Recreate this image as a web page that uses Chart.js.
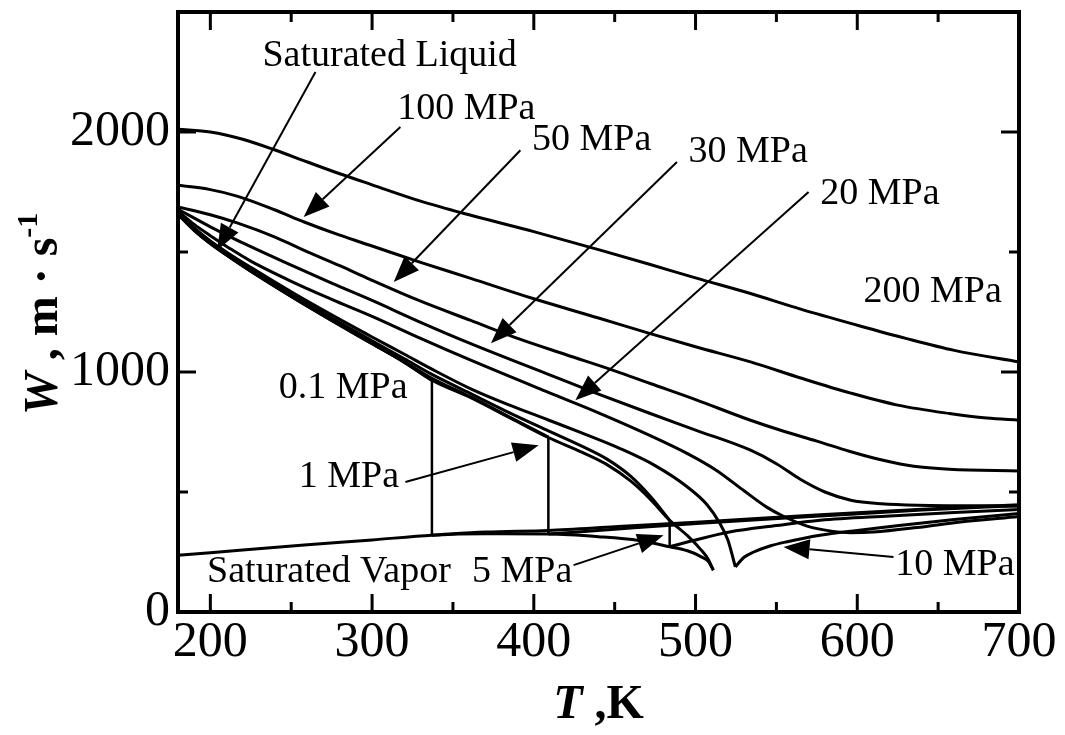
<!DOCTYPE html>
<html>
<head>
<meta charset="utf-8">
<script src="https://cdn.jsdelivr.net/npm/chart.js@4.4.1/dist/chart.umd.min.js"></script>
<style>
  html, body { margin: 0; padding: 0; background: #fff; }
  #wrap { width: 1065px; height: 735px; }
</style>
</head>
<body>
<div id="wrap"><canvas id="soundChart"></canvas></div>
<script>
// axis ticks
var tempTicks = [200, 300, 400, 500, 600, 700];
var tempMinor = [250, 350, 450, 550, 650];
var speedTicks = [0, 1000, 2000];
var speedMinor = [500, 1500];

// speed of sound W (m/s) against T (K), one array per isobar: [T, W]
var p200 = [[180,2012],[200,2000],[220,1970],[240,1925],[260,1875],[280,1826],[300,1780],[330,1712],[360,1655],[400,1585],[440,1510],[472,1448],[500,1392],[534,1327],[565,1262],[600,1195],[630,1140],[660,1090],[700,1042]];
var p100 = [[180,1778],[200,1760],[217,1732],[240,1675],[258,1625],[280,1570],[300,1525],[330,1457],[361,1390],[400,1305],[440,1225],[472,1160],[500,1105],[534,1042],[565,975],[596,912],[625,862],[657,827],[680,808],[700,799]];
var p50 = [[180,1688],[200,1655],[217,1620],[240,1562],[258,1507],[280,1443],[299,1385],[330,1295],[361,1215],[390,1140],[420,1072],[450,1005],[472,952],[500,885],[534,799],[555,752],[575,712],[595,670],[616,632],[635,607],[657,595],[700,588]];
var p30 = [[180,1678],[200,1605],[225,1522],[250,1445],[275,1370],[300,1298],[330,1207],[361,1118],[409,990],[440,908],[472,827],[500,758],[534,674],[550,618],[565,552],[580,500],[596,466],[615,451],[637,445],[700,442]];
var p20 = [[180,1670],[190,1615],[200,1568],[212,1515],[225,1462],[250,1378],[275,1303],[300,1232],[330,1140],[361,1049],[409,915],[440,830],[472,735],[495,660],[513,590],[530,505],[544,437],[554,400],[569,358],[585,336],[596,330],[610,333],[637,352],[660,372],[700,398]];
var p10Liquid = [[180,1664],[190,1600],[200,1546],[212,1491],[225,1436],[250,1334],[275,1238],[300,1146],[320,1074],[337,1012],[361,930],[385,862],[409,800],[430,745],[453,682],[475,610],[495,521],[507,448],[515,370],[520,300],[524.6,188]];
var p10Gas = [[524.6,188],[530,228],[536,250],[546,275],[556,292],[577,320],[600,340],[618,354],[660,385],[700,410]];
var p5Liquid = [[180,1661],[190,1595],[200,1540],[212,1484],[225,1427],[250,1323],[275,1225],[300,1130],[320,1055],[337,990],[361,910],[385,830],[409,755],[430,690],[445,638],[460,565],[472,482],[484,382]];
var p5Gas = [[484,272],[500,300],[521,333],[550,360],[577,382],[620,400],[660,415],[700,427]];
var p1Liquid = [[180,1659],[190,1592],[200,1537],[212,1480],[225,1422],[250,1317],[275,1217],[300,1120],[320,1043],[337,974],[361,896],[385,812],[409,729]];
var p1Gas = [[409,325],[450,345],[503,370],[577,400],[640,425],[700,443]];
var p01Liquid = [[180,1657],[190,1590],[200,1535],[212,1478],[225,1420],[250,1315],[275,1215],[300,1118],[320,1040],[337,966]];
var p01Gas = [[337,320],[370,333],[409,340],[450,355],[503,375],[577,405],[640,428],[700,447]];
var satLiquid = [[180,1657],[190,1590],[200,1535],[212,1478],[225,1420],[250,1315],[275,1215],[300,1118],[320,1040],[337,966],[361,893],[385,810],[409,727],[430,665],[445,615],[460,545],[472,470],[484,382],[495,318],[503,262],[508,218],[511,174]];
var satVapor = [[180,236],[220,258],[260,280],[300,300],[337,320],[370,326],[409,325],[440,314],[465,298],[484,272],[495,255],[503,232],[508,210],[511,174]];

// labels placed in data units: text at [T, W], optional arrow from -> to
var notes = [
  { text: 'Saturated Liquid', at: [232.2, 2274], from: [265.0, 2250], to: [204.2, 1507] },
  { text: '100 MPa', at: [315.5, 2053], from: [317.5, 2021], to: [257.7, 1646] },
  { text: '50 MPa', at: [398.9, 1924], from: [391.7, 1924], to: [313.4, 1375] },
  { text: '30 MPa', at: [495.7, 1875], from: [488.5, 1875], to: [373.5, 1120] },
  { text: '20 MPa', at: [577.1, 1702], from: [569.9, 1750], to: [425.7, 882] },
  { text: '200 MPa', at: [603.9, 1292] },
  { text: '0.1 MPa', at: [242.3, 893] },
  { text: '1 MPa', at: [254.7, 521], from: [320.6, 542], to: [403.0, 695] },
  { text: 'Saturated Vapor', at: [198.0, 124] },
  { text: '5 MPa', at: [361.8, 124], from: [424.6, 195.5], to: [480.2, 320] },
  { text: '10 MPa', at: [623.5, 153], from: [622.4, 229], to: [554.4, 271] }
];

var serif = "'Liberation Serif', 'Times New Roman', serif";

function pts(arr) {
  return arr.map(function (p) { return { x: p[0], y: p[1] }; });
}
function curve(arr, w) {
  return {
    data: pts(arr),
    showLine: true,
    borderColor: '#000',
    borderWidth: w || 3,
    pointRadius: 0,
    fill: false,
    cubicInterpolationMode: 'monotone'
  };
}
// vertical jump between the two phases at the boiling point
function jump(liq, gas) {
  var a = liq[liq.length - 1], b = gas[0];
  return curve([a, [a[0], b[1]]], 2.5);
}

var datasets = [
  curve(p200), curve(p100), curve(p50), curve(p30), curve(p20),
  curve(p10Liquid), curve(p10Gas),
  curve(p5Liquid), jump(p5Liquid, p5Gas), curve(p5Gas),
  curve(p1Liquid), jump(p1Liquid, p1Gas), curve(p1Gas),
  curve(p01Liquid), jump(p01Liquid, p01Gas), curve(p01Gas),
  curve(satLiquid), curve(satVapor)
];

// frame with inward ticks on all four sides
var framePlugin = {
  id: 'frame',
  afterDatasetsDraw: function (chart) {
    var ctx = chart.ctx, a = chart.chartArea;
    var xs = chart.scales.x, ys = chart.scales.y;
    function seg(x1, y1, x2, y2) {
      ctx.beginPath(); ctx.moveTo(x1, y1); ctx.lineTo(x2, y2); ctx.stroke();
    }
    ctx.save();
    ctx.strokeStyle = '#000';
    ctx.lineWidth = 3;
    tempTicks.concat(tempMinor).forEach(function (v) {
      var len = tempTicks.indexOf(v) >= 0 ? 18 : 10;
      var px = xs.getPixelForValue(v);
      seg(px, a.bottom, px, a.bottom - len);
      seg(px, a.top, px, a.top + len);
    });
    speedTicks.concat(speedMinor).forEach(function (v) {
      var len = speedTicks.indexOf(v) >= 0 ? 18 : 10;
      var py = ys.getPixelForValue(v);
      seg(a.left, py, a.left + len, py);
      seg(a.right, py, a.right - len, py);
    });
    ctx.lineWidth = 4;
    ctx.strokeRect(a.left, a.top, a.right - a.left, a.bottom - a.top);
    ctx.restore();
  }
};

// curve labels and arrows
var notesPlugin = {
  id: 'notes',
  afterDatasetsDraw: function (chart) {
    var ctx = chart.ctx;
    var xs = chart.scales.x, ys = chart.scales.y;
    ctx.save();
    ctx.fillStyle = '#000';
    ctx.strokeStyle = '#000';
    ctx.font = '38px ' + serif;
    ctx.textBaseline = 'alphabetic';
    ctx.textAlign = 'left';
    notes.forEach(function (n) {
      ctx.fillText(n.text, xs.getPixelForValue(n.at[0]), ys.getPixelForValue(n.at[1]));
      if (!n.from) return;
      var x1 = xs.getPixelForValue(n.from[0]), y1 = ys.getPixelForValue(n.from[1]);
      var x2 = xs.getPixelForValue(n.to[0]), y2 = ys.getPixelForValue(n.to[1]);
      var ang = Math.atan2(y2 - y1, x2 - x1);
      var hl = 26, hw = 10;
      var bx = x2 - hl * Math.cos(ang), by = y2 - hl * Math.sin(ang);
      ctx.lineWidth = 2;
      ctx.beginPath(); ctx.moveTo(x1, y1); ctx.lineTo(bx, by); ctx.stroke();
      ctx.beginPath();
      ctx.moveTo(x2, y2);
      ctx.lineTo(bx + hw * Math.sin(ang), by - hw * Math.cos(ang));
      ctx.lineTo(bx - hw * Math.sin(ang), by + hw * Math.cos(ang));
      ctx.closePath();
      ctx.fill();
    });
    ctx.restore();
  }
};

// axis titles with italic symbols and a superscript
var titlesPlugin = {
  id: 'titles',
  afterDraw: function (chart) {
    var ctx = chart.ctx, a = chart.chartArea;
    var sym = 'italic bold 48px ' + serif, txt = 'bold 48px ' + serif, sup = 'bold 30px ' + serif;
    ctx.save();
    ctx.fillStyle = '#000';
    ctx.textBaseline = 'alphabetic';
    ctx.textAlign = 'left';

    // x title: T ,K
    ctx.font = sym; var w1 = ctx.measureText('T').width;
    ctx.font = txt; var w2 = ctx.measureText(' ,K').width;
    var x0 = (a.left + a.right) / 2 - (w1 + w2) / 2, yb = 718;
    ctx.font = sym; ctx.fillText('T', x0, yb);
    ctx.font = txt; ctx.fillText(' ,K', x0 + w1, yb);

    // y title: W , m · s-1 reading upwards
    ctx.font = sym; var v1 = ctx.measureText('W').width;
    ctx.font = txt; var v2 = ctx.measureText(' , m \u00b7 s').width;
    ctx.translate(57, 415);
    ctx.rotate(-Math.PI / 2);
    ctx.font = sym; ctx.fillText('W', 0, 0);
    ctx.font = txt; ctx.fillText(' , m \u00b7 s', v1, 0);
    ctx.font = sup; ctx.fillText('-1', v1 + v2, -20);
    ctx.restore();
  }
};

function fixSize(w, h) {
  return function (s) {
    if (w) s.width = w;
    if (h) s.height = h;
    s.paddingTop = 0; s.paddingBottom = 0; s.paddingLeft = 0; s.paddingRight = 0;
  };
}

var ctx = document.getElementById('soundChart').getContext('2d');
var chart = new Chart(ctx, {
  type: 'scatter',
  data: { datasets: datasets },
  options: {
    responsive: true,
    maintainAspectRatio: false,
    animation: false,
    layout: { padding: { left: 0, right: 46, top: 12, bottom: 0 } },
    plugins: { legend: { display: false }, tooltip: { enabled: false } },
    scales: {
      x: {
        type: 'linear',
        min: 180,
        max: 700,
        afterFit: fixSize(0, 123),
        afterBuildTicks: function (s) { s.ticks = tempTicks.map(function (v) { return { value: v }; }); },
        grid: { display: false, drawTicks: false },
        border: { display: false },
        ticks: {
          color: '#000', font: { family: serif, size: 50 }, padding: 1, maxRotation: 0, autoSkip: false,
          callback: function (v) { return String(v); }
        }
      },
      y: {
        type: 'linear',
        min: 0,
        max: 2500,
        afterFit: fixSize(178, 0),
        afterBuildTicks: function (s) { s.ticks = speedTicks.map(function (v) { return { value: v }; }); },
        grid: { display: false, drawTicks: false },
        border: { display: false },
        ticks: {
          color: '#000', font: { family: serif, size: 50 }, padding: 8, autoSkip: false,
          callback: function (v) { return String(v); }
        }
      }
    }
  },
  plugins: [framePlugin, notesPlugin, titlesPlugin]
});
</script>
</body>
</html>
